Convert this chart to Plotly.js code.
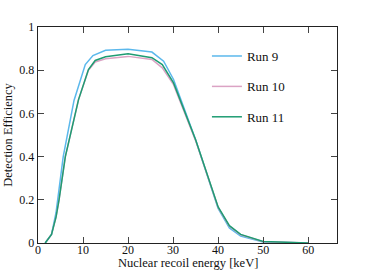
<!DOCTYPE html>
<html>
<head>
<meta charset="utf-8">
<script src="https://cdn.plot.ly/plotly-3.0.1.min.js"></script>
<style>html,body{margin:0;padding:0;background:#fff;}#chart{width:374px;height:270px;}</style>
</head>
<body>
<div id="chart"></div>
<script>
// Run 9
var run9X = [1.6, 3, 4, 4.5, 5.6, 8, 10.5, 12.2, 15, 20, 25.3, 27.9, 30.1, 35, 40, 42.5, 45, 50, 60];
var run9Y = [0, 0.04, 0.14, 0.23, 0.4, 0.66, 0.826, 0.868, 0.892, 0.897, 0.884, 0.842, 0.757, 0.478, 0.16, 0.07, 0.032, 0.005, 0];
// Run 10
var run10X = [1.6, 3, 4, 4.67, 6.07, 9, 11.2, 12.7, 15, 20, 25.3, 27.6, 30.1, 35, 40, 42.5, 45, 50, 60];
var run10Y = [0, 0.04, 0.12, 0.2, 0.4, 0.664, 0.8, 0.838, 0.853, 0.864, 0.85, 0.811, 0.733, 0.474, 0.165, 0.078, 0.038, 0.006, 0];
// Run 11
var run11X = [1.6, 3, 4, 4.67, 6.07, 9, 11.2, 12.7, 15, 20, 25.3, 27.6, 30.1, 35, 40, 42.5, 45, 50, 60];
var run11Y = [0, 0.04, 0.12, 0.2, 0.4, 0.664, 0.803, 0.845, 0.862, 0.876, 0.858, 0.826, 0.741, 0.478, 0.167, 0.08, 0.04, 0.007, 0];

var names = ['Run 9', 'Run 10', 'Run 11'];
var colors = ['#5bb8ec', '#dba3c4', '#1e9c72'];
var xs = [run9X, run10X, run11X];
var ys = [run9Y, run10Y, run11Y];
var xTitle = 'Nuclear recoil energy [keV]';
var yTitle = 'Detection Efficiency';

var FONT = 'Liberation Serif, Times New Roman, serif';
var traces = names.map(function (n, i) {
  return {
    x: xs[i], y: ys[i], name: n, type: 'scatter', mode: 'lines',
    legendgroup: 'g' + i,
    line: {color: colors[i], width: 1.5}
  };
});

var axisCommon = {
  showgrid: false, zeroline: false, showline: true, linecolor: '#222', linewidth: 1.3,
  ticks: 'inside', ticklen: 6, tickwidth: 1, tickcolor: '#444', mirror: 'ticks',
  tickfont: {family: FONT, size: 12, color: '#111'}
};

var layout = {
  width: 374, height: 270,
  margin: {l: 38, r: 37, t: 27, b: 27, pad: 0},
  paper_bgcolor: '#fff', plot_bgcolor: '#fff',
  font: {family: FONT, size: 13, color: '#111'},
  showlegend: true,
  legend: {x: 0.565, y: 0.935, xanchor: 'left', yanchor: 'top', bgcolor: 'rgba(0,0,0,0)',
           font: {family: FONT, size: 13, color: '#111'}, tracegroupgap: 10.5, traceorder: 'grouped'},
  xaxis: Object.assign({}, axisCommon, {
    range: [0, 66.4], dtick: 10, tick0: 0, ticklabelstandoff: -5
  }),
  yaxis: Object.assign({}, axisCommon, {
    range: [0, 1], dtick: 0.2, tick0: 0,
    title: {text: yTitle, font: {family: FONT, size: 12.5, color: '#111'}, standoff: 4}
  }),
  annotations: [{
    text: xTitle, xref: 'paper', yref: 'paper', x: 0.5, y: 0,
    xanchor: 'center', yanchor: 'top', yshift: -11.5, showarrow: false, borderpad: 0,
    font: {family: FONT, size: 12.5, color: '#111'}
  }]
};

Plotly.newPlot('chart', traces, layout, {displayModeBar: false, staticPlot: true});
</script>
</body>
</html>
